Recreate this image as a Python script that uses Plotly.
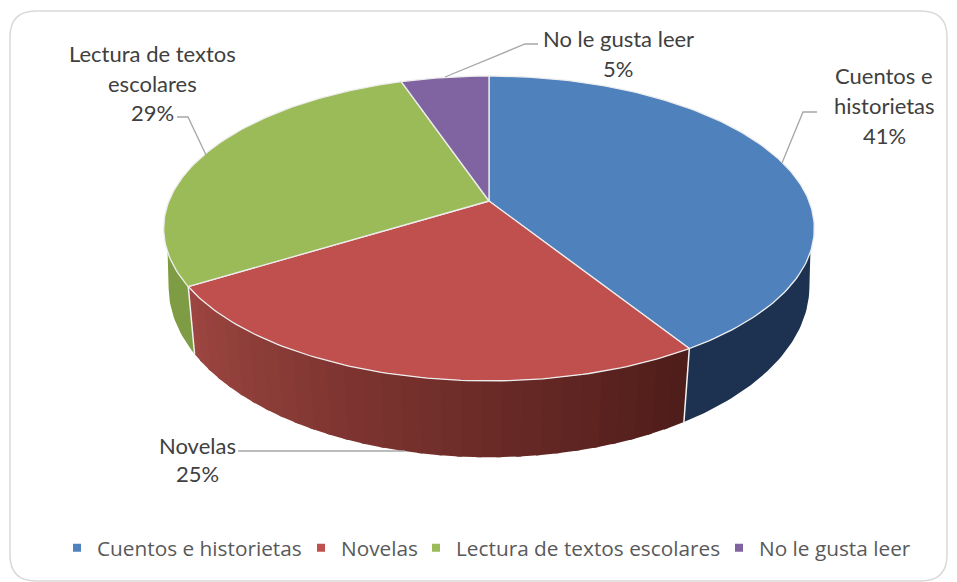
import math
import plotly.graph_objects as go

# ---- data ----
categories = ["Cuentos e historietas", "Novelas", "Lectura de textos escolares", "No le gusta leer"]
shares = [41.1, 25.1, 28.6, 5.2]
label_lines = [["Cuentos e", "historietas"], ["Novelas"], ["Lectura de textos", "escolares"], ["No le gusta leer"]]

# ---- styles ----
face_colors = ["#4F81BD", "#C0504D", "#9BBB59", "#8064A2"]
LABEL_FONT = dict(family="Lato, Carlito, sans-serif", size=22, color="#404040")
LEGEND_FONT = dict(family="Open Sans, sans-serif", size=20.8, color="#595959")

# ---- projection of the disc (perspective view) ----
CX = 489
TOP = dict(a=320, b=147.5, k=0.18, cy=201)
BOT = dict(a=316, b=166, k=0.165, cy=258.5)


def proj(p, angle):
    r = math.radians(angle)
    u, v = math.sin(r), -math.cos(r)
    d = 1 - p["k"] * v
    return CX + p["a"] * u / d, p["cy"] + p["b"] * v / d


def arc(p, a0, a1, step=1.0):
    n = max(2, int(abs(a1 - a0) / step) + 1)
    return [proj(p, a0 + (a1 - a0) * i / (n - 1)) for i in range(n)]


def mix(c0, c1, t):
    return "rgb(%d,%d,%d)" % tuple(round(x + (y - x) * t) for x, y in zip(c0, c1))


# slice angles derived from the values
total = sum(shares)
edges = [0.0]
for s in shares:
    edges.append(edges[-1] + 360.0 * s / total)

fig = go.Figure()


def poly(pts, fill, line=None, width=0.0):
    fig.add_trace(go.Scatter(
        x=[p[0] for p in pts] + [pts[0][0]], y=[p[1] for p in pts] + [pts[0][1]],
        mode="lines", fill="toself", fillcolor=fill,
        line=dict(color=line or fill, width=width),
        hoverinfo="skip", showlegend=False))


# walls: the flat side pieces and the shaded middle piece
poly(arc(TOP, 109, edges[1]) + arc(BOT, edges[1], 100), "#1D3250")
poly(arc(TOP, edges[2], 251) + arc(BOT, 260, edges[2]), "#7E9C44")

BANDS = 30
RED_DARK, RED_LIGHT = (78, 28, 25), (158, 70, 65)
span = edges[2] - edges[1]
for i in range(BANDS):
    s = edges[1] + span * i / BANDS
    e = min(edges[2], edges[1] + span * (i + 1) / BANDS + 0.8)
    poly(arc(TOP, s, e) + arc(BOT, e, s), mix(RED_DARK, RED_LIGHT, (i + 0.5) / BANDS))

# white seams between the walls
for ang in (edges[1], edges[2]):
    a, b = proj(TOP, ang), proj(BOT, ang)
    fig.add_trace(go.Scatter(x=[a[0], b[0]], y=[a[1], b[1]], mode="lines",
                             line=dict(color="#F2F2F2", width=1.5),
                             hoverinfo="skip", showlegend=False))

# top faces
apex = (CX, TOP["cy"])
for i, col in enumerate(face_colors):
    poly([apex] + arc(TOP, edges[i], edges[i + 1]), col, "#EDEDED", 1.3)

# legend entries, one legend box per entry so that the spacing can follow the reference
LEGEND_TEXT_X = [97, 341, 456, 759]
legend_layout = {}
for i, (name, col, tx) in enumerate(zip(categories, face_colors, LEGEND_TEXT_X)):
    key = "legend" if i == 0 else f"legend{i + 1}"
    fig.add_trace(go.Scatter(x=[None], y=[None], mode="markers", name=name, legend=key,
                             showlegend=True,
                             marker=dict(symbol="square", size=8, color=col)))
    legend_layout[key] = dict(x=(tx - 40) / 957, xanchor="left", y=0.058, yanchor="middle",
                              font=LEGEND_FONT, itemwidth=30, bgcolor="rgba(0,0,0,0)",
                              borderwidth=0)

# data labels
label_pos = [(884, [75, 105, 135]), (197, [445, 473]), (152, [53, 83, 112]), (618, [38, 68])]
for lines, share, (x, ys) in zip(label_lines, shares, label_pos):
    for txt, y in zip(lines + [f"{round(share)}%"], ys):
        fig.add_annotation(x=x, y=y, text=txt, showarrow=False, font=LABEL_FONT,
                           xanchor="center", yanchor="middle")

# leader lines
leaders = [
    [(817, 112), (803, 112), (782, 163)],
    [(238, 451), (405, 451)],
    [(177, 117), (188, 117), (206, 155)],
    [(538, 44), (525, 44), (445, 77)],
]
for pts in leaders:
    fig.add_trace(go.Scatter(x=[p[0] for p in pts], y=[p[1] for p in pts], mode="lines",
                             line=dict(color="#A6A6A6", width=1.3),
                             hoverinfo="skip", showlegend=False))

# chart frame
L, T, R, B, Q = 10, 11, 947, 581, 26
frame = (f"M{L + Q},{T} L{R - Q},{T} Q{R},{T} {R},{T + Q} L{R},{B - Q} Q{R},{B} {R - Q},{B} "
         f"L{L + Q},{B} Q{L},{B} {L},{B - Q} L{L},{T + Q} Q{L},{T} {L + Q},{T} Z")
fig.add_shape(type="path", path=frame, xref="x", yref="y",
              line=dict(color="#D9D9D9", width=1.5), layer="below")

fig.update_layout(
    width=957, height=582, margin=dict(l=0, r=0, t=0, b=0),
    paper_bgcolor="white", plot_bgcolor="white",
    xaxis=dict(range=[0, 957], visible=False, fixedrange=True),
    yaxis=dict(range=[582, 0], visible=False, fixedrange=True),
    **legend_layout,
)

fig.write_html("out.html", config={"displayModeBar": False},
               post_script="document.body.style.margin='0';document.body.style.overflow='hidden';")
